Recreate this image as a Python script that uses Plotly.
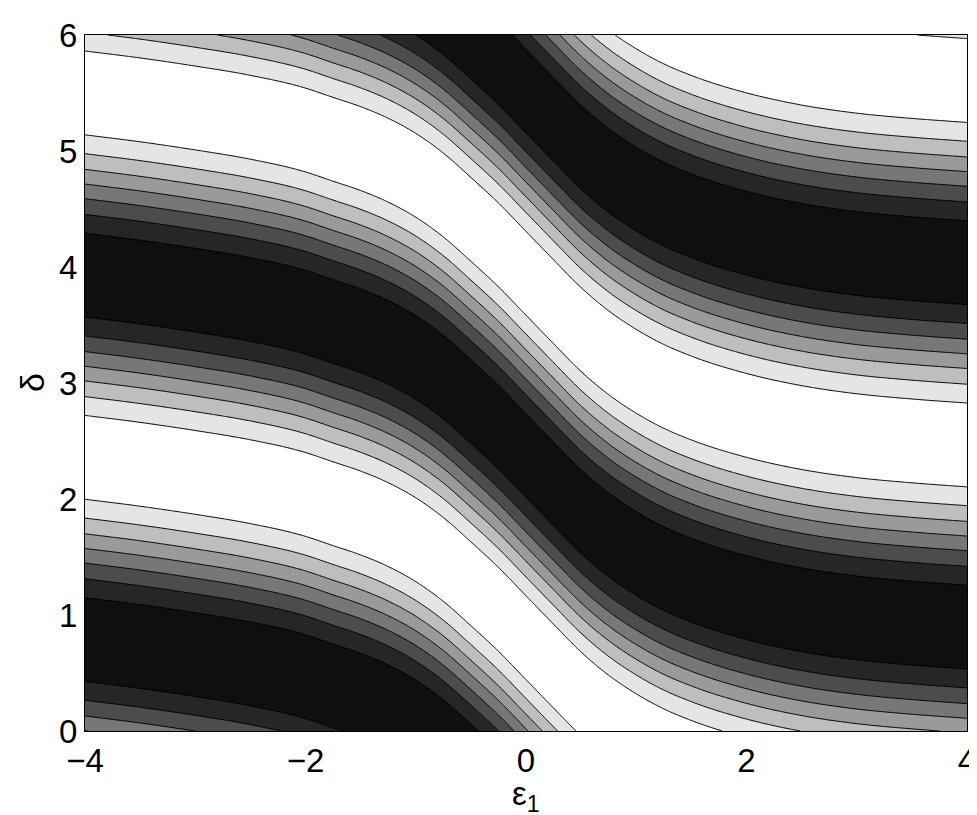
import numpy as np
import plotly.graph_objects as go

# centre of the dark band (delta) at each epsilon_1
eps_knots = [-4.0, -3.5, -3.0, -2.5, -2.0, -1.75, -1.5, -1.25, -1.0, -0.75,
             -0.5, -0.25, 0.0, 0.25, 0.5, 0.75, 1.0, 1.25, 1.5, 2.0,
             2.5, 3.0, 3.5, 4.0]
band_centre = [3.93, 3.87, 3.80, 3.72, 3.61, 3.53, 3.45, 3.35, 3.22, 3.05,
               2.84, 2.62, 2.375, 2.13, 1.89, 1.69, 1.53, 1.40, 1.30, 1.15,
               1.045, 0.975, 0.93, 0.895]

levels = [-0.75, -0.5, -0.25, 0.0, 0.25, 0.5, 0.75]
greys = ["#ffffff", "#e5e5e5", "#bebebe", "#9a9a9a",
         "#777777", "#4c4c4c", "#262626", "#0f0f0f"]

x_ticks = [-4, -2, 0, 2, 4]
y_ticks = [0, 1, 2, 3, 4, 5, 6]


def hermite(xk, yk, xs):
    xk = np.asarray(xk)
    yk = np.asarray(yk)
    m = np.gradient(yk, xk)
    idx = np.clip(np.searchsorted(xk, xs) - 1, 0, len(xk) - 2)
    h = xk[idx + 1] - xk[idx]
    t = (xs - xk[idx]) / h
    h00 = 2 * t**3 - 3 * t**2 + 1
    h10 = t**3 - 2 * t**2 + t
    h01 = -2 * t**3 + 3 * t**2
    h11 = t**3 - t**2
    return h00 * yk[idx] + h10 * h * m[idx] + h01 * yk[idx + 1] + h11 * h * m[idx + 1]


eps = np.linspace(-4, 4, 481)
delta = np.linspace(0, 6, 421)
centre = hermite(eps_knots, band_centre, eps)
z = np.cos(2 * (delta[:, None] - centre[None, :]))

n = len(greys)
colorscale = []
for i, g in enumerate(greys):
    colorscale.append([i / n, g])
    colorscale.append([(i + 1) / n, g])

fig = go.Figure(go.Contour(
    x=eps, y=delta, z=z,
    contours=dict(start=levels[0], end=levels[-1], size=0.25, coloring="fill"),
    colorscale=colorscale,
    line=dict(color="black", width=1),
    showscale=False,
    hoverinfo="skip",
))

FONT = "Liberation Sans, Arial, sans-serif"
axis_font = dict(family=FONT, size=33, color="black")
fig.update_xaxes(
    range=[-4, 4], tickvals=x_ticks, ticks="", showline=True, linecolor="black",
    linewidth=1, mirror=True, showgrid=False, zeroline=False, tickfont=axis_font,
)
fig.update_yaxes(
    range=[0, 6], tickvals=y_ticks, ticks="", showline=True, linecolor="black",
    linewidth=1, mirror=True, showgrid=False, zeroline=False, tickfont=axis_font,
)

# axis titles as annotations so they sit where the original puts them
fig.add_annotation(
    text="ε<sub>1</sub>", xref="paper", yref="paper", x=0.5, y=-0.093,
    xanchor="center", yanchor="middle", showarrow=False,
    font=dict(size=33, color="black", family=FONT),
)
fig.add_annotation(
    text="δ", xref="paper", yref="paper", x=-0.06, y=0.5, textangle=-90,
    xanchor="center", yanchor="middle", showarrow=False,
    font=dict(size=34, color="black", family=FONT),
)

fig.update_layout(
    width=977, height=815,
    margin=dict(l=77, r=18, t=27, b=92, autoexpand=False),
    plot_bgcolor="white", paper_bgcolor="white",
)

fig.write_html("out.html")
